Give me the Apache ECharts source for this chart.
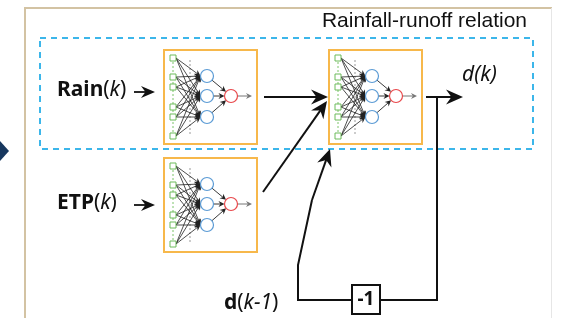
<!DOCTYPE html>
<html>
<head>
<meta charset="utf-8">
<style>
  html, body { margin: 0; padding: 0; background: #fff; }
  #main { width: 567px; height: 318px; }
</style>
<script src="https://cdn.jsdelivr.net/npm/echarts@6/dist/echarts.min.js"></script>
</head>
<body>
<div id="main"></div>
<script>
// diagram content
var inputLabels = ['Rain', 'ETP'];
var outputLabel = 'd(k)';
var delayLabel = 'd(k-1)';
var delayOp = '-1';
var groupTitle = 'Rainfall-runoff relation';
var layerSizes = [6, 3, 1];

var FONT = '"Noto Sans", "Open Sans", sans-serif';
var elements = [];

function arrowHead(tx, ty, ang, len, wid, color) {
    var c = Math.cos(ang), s = Math.sin(ang);
    function p(dx, dy) { return [tx + dx * c - dy * s, ty + dx * s + dy * c]; }
    return {
        type: 'polygon',
        shape: { points: [p(0, 0), p(-len, -wid / 2), p(-len * 0.68, 0), p(-len, wid / 2)] },
        style: { fill: color }
    };
}

function arrowLine(x1, y1, x2, y2, lw, len, wid, color) {
    var ang = Math.atan2(y2 - y1, x2 - x1);
    elements.push({
        type: 'line',
        shape: { x1: x1, y1: y1, x2: x2 - Math.cos(ang) * len * 0.6, y2: y2 - Math.sin(ang) * len * 0.6 },
        style: { stroke: color, lineWidth: lw }
    });
    elements.push(arrowHead(x2, y2, ang, len, wid, color));
}

// small neural network inside an orange box
function network(ox, oy) {
    var inY = [8, 27, 37, 57, 67, 86];
    var hidY = [26, 46, 67];
    var inX = ox + 9, hidX = ox + 43, outX = ox + 67, outY = oy + 46, r = 6.5;
    elements.push({
        type: 'rect', shape: { x: ox, y: oy, width: 93, height: 94 },
        style: { fill: '#fff', stroke: '#f7b84b', lineWidth: 2 }
    });
    // dotted guide lines
    elements.push({
        type: 'line', shape: { x1: inX, y1: oy + inY[0], x2: inX, y2: oy + inY[layerSizes[0] - 1] },
        style: { stroke: '#7cc46a', lineWidth: 1, lineDash: [2, 2] }
    });
    elements.push({
        type: 'line', shape: { x1: ox + 26, y1: oy + 10, x2: ox + 26, y2: oy + 86 },
        style: { stroke: '#999', lineWidth: 1, lineDash: [2, 2] }
    });
    for (var i = 0; i < layerSizes[0]; i++) {
        for (var j = 0; j < layerSizes[1]; j++) {
            var x1 = inX + 3, y1 = oy + inY[i], x2 = hidX - r, y2 = oy + hidY[j];
            arrowLine(x1, y1, x2, y2, 0.8, 6, 6, '#222');
        }
    }
    for (var j = 0; j < layerSizes[1]; j++) {
        var a = Math.atan2(outY - (oy + hidY[j]), outX - hidX);
        arrowLine(hidX + Math.cos(a) * r, oy + hidY[j] + Math.sin(a) * r,
            outX - Math.cos(a) * r, outY - Math.sin(a) * r, 0.9, 6, 6, '#222');
    }
    arrowLine(outX + r, outY, ox + 88, outY, 1, 6, 6, '#777');
    for (var i = 0; i < layerSizes[0]; i++) {
        elements.push({
            type: 'rect', shape: { x: inX - 3, y: oy + inY[i] - 3, width: 6, height: 6 },
            style: { fill: '#fff', stroke: '#6dbb5a', lineWidth: 1 }
        });
    }
    for (var j = 0; j < layerSizes[1]; j++) {
        elements.push({
            type: 'circle', shape: { cx: hidX, cy: oy + hidY[j], r: r },
            style: { fill: '#fff', stroke: '#5b9bd5', lineWidth: 1.2 }
        });
    }
    elements.push({
        type: 'circle', shape: { cx: outX, cy: outY, r: r },
        style: { fill: '#fff', stroke: '#e8474a', lineWidth: 1.2 }
    });
}

// outer frame
elements.push({ type: 'line', shape: { x1: 25, y1: 8, x2: 25, y2: 318 }, style: { stroke: '#d3c3a3', lineWidth: 2 } });
elements.push({ type: 'line', shape: { x1: 24, y1: 8, x2: 552, y2: 8 }, style: { stroke: '#d3c3a3', lineWidth: 2 } });
elements.push({ type: 'line', shape: { x1: 551.5, y1: 8, x2: 551.5, y2: 318 }, style: { stroke: '#e6e6e6', lineWidth: 1 } });
// navy chevron on the left
elements.push({
    type: 'polygon', shape: { points: [[0, 141], [9, 151], [0, 161]] },
    style: { fill: '#17375e' }
});

// dashed group box + title
elements.push({
    type: 'rect', shape: { x: 40, y: 38, width: 493, height: 111 },
    style: { fill: 'none', stroke: '#3cb6ea', lineWidth: 2, lineDash: [6, 5] }
});
elements.push({
    type: 'text', x: 527, y: 21,
    style: { text: groupTitle, fill: '#111', font: '21px "Liberation Sans", Arial, sans-serif', align: 'right', verticalAlign: 'middle' }
});

network(164, 50);
network(164, 158);
network(329, 50);

// input labels
var rich = {
    b: { fontFamily: FONT, fontWeight: 'bold', fontSize: 21, fill: '#111' },
    n: { fontFamily: FONT, fontSize: 21, fill: '#111' },
    i: { fontFamily: FONT, fontStyle: 'italic', fontSize: 21, fill: '#111' }
};
var inputY = [90, 203];
inputLabels.forEach(function (name, k) {
    elements.push({
        type: 'text', x: 57, y: inputY[k],
        style: { text: '{b|' + name + '}{n|(}{i|k}{n|)}', rich: rich, verticalAlign: 'middle' }
    });
    arrowLine(134, inputY[k] + 2, 155, inputY[k] + 2, 1.8, 14, 12, '#111');
});

// main connections
arrowLine(264, 97, 328, 97, 2, 17, 15, '#111');
arrowLine(263, 192, 327, 101, 2, 17, 15, '#111');
arrowLine(426, 97, 463, 97, 2, 17, 15, '#111');
elements.push({
    type: 'polyline', shape: { points: [[437, 97], [437, 300], [298, 300], [298, 265], [312, 200]] },
    style: { stroke: '#111', lineWidth: 2, fill: 'none' }
});
arrowLine(312, 200, 330, 149, 2, 17, 15, '#111');

// delay box
elements.push({
    type: 'rect', shape: { x: 352, y: 285, width: 28, height: 29 },
    style: { fill: '#fff', stroke: '#111', lineWidth: 2 }
});
elements.push({
    type: 'text', x: 366, y: 300,
    style: { text: delayOp, fill: '#111', font: 'bold 19px ' + FONT, align: 'center', verticalAlign: 'middle' }
});

// output / delay labels
elements.push({
    type: 'text', x: 462, y: 75,
    style: { text: '{i|' + outputLabel + '}', rich: { i: { fontFamily: FONT, fontStyle: 'italic', fontSize: 21, fill: '#111' } }, verticalAlign: 'middle' }
});
elements.push({
    type: 'text', x: 224, y: 303,
    style: { text: '{b|d}{n|(}{i|k-1}{n|)}', rich: rich, verticalAlign: 'middle' }
});

var myChart = echarts.init(document.getElementById('main'));
myChart.setOption({
    animation: false,
    graphic: { elements: elements }
});
</script>
</body>
</html>
